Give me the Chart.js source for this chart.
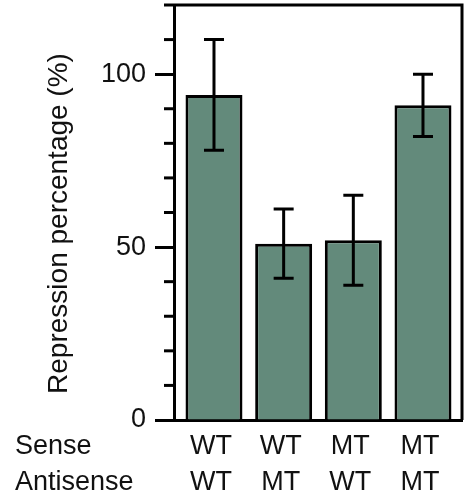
<!DOCTYPE html>
<html>
<head>
<meta charset="utf-8">
<script src="https://cdn.jsdelivr.net/npm/chart.js@4.4.1/dist/chart.umd.min.js"></script>
<style>
  html, body { margin: 0; padding: 0; background: #fff; }
  #wrap { width: 465px; height: 497px; }
</style>
</head>
<body>
<div id="wrap"><canvas id="repressionChart" width="465" height="497"></canvas></div>
<script>
// construct pairs (sense / antisense strand) and repression values
const sense = ['WT', 'WT', 'MT', 'MT'];
const antisense = ['WT', 'MT', 'WT', 'MT'];
const rowLabels = ['Sense', 'Antisense'];
const repression = [94, 51, 52, 91];
const errLow = [78, 41, 39, 82];
const errHigh = [110, 61, 65, 100];
const yMajorTicks = [0, 50, 100];
const yTitle = 'Repression percentage (%)';

const FONT = '"Liberation Sans", Arial, Helvetica, sans-serif';
const INK = '#111';
const LABEL_PAD = 9;
const LABEL_LH = 1.31;

Chart.defaults.font.family = FONT;
Chart.defaults.color = INK;

// whiskers with caps, drawn over the bars
const errorBars = {
    id: 'errorBars',
    afterDatasetsDraw: function(chart) {
        const ctx = chart.ctx;
        const xs = chart.scales.x;
        const ys = chart.scales.y;
        ctx.save();
        ctx.strokeStyle = '#000';
        ctx.lineWidth = 3;
        repression.forEach(function(v, i) {
            const x = xs.getPixelForValue(i);
            const lo = ys.getPixelForValue(errLow[i]);
            const hi = ys.getPixelForValue(errHigh[i]);
            ctx.beginPath();
            ctx.moveTo(x, lo);
            ctx.lineTo(x, hi);
            ctx.moveTo(x - 10, lo);
            ctx.lineTo(x + 10, lo);
            ctx.moveTo(x - 10, hi);
            ctx.lineTo(x + 10, hi);
            ctx.stroke();
        });
        ctx.restore();
    }
};

// closed box, short minor ticks, axis title and row names
const frame = {
    id: 'frame',
    afterDraw: function(chart) {
        const ctx = chart.ctx;
        const a = chart.chartArea;
        const ys = chart.scales.y;
        const xs = chart.scales.x;
        ctx.save();
        ctx.strokeStyle = '#000';
        ctx.lineWidth = 3;
        ctx.beginPath();
        ctx.moveTo(a.left, a.top);
        ctx.lineTo(a.right, a.top);
        ctx.lineTo(a.right, a.bottom);
        ctx.stroke();

        ys.ticks.forEach(function(t) {
            if (yMajorTicks.includes(t.value)) return;
            const y = ys.getPixelForValue(t.value);
            ctx.beginPath();
            ctx.moveTo(a.left - 10, y);
            ctx.lineTo(a.left, y);
            ctx.stroke();
        });

        ctx.fillStyle = INK;
        ctx.font = '27px ' + FONT;
        ctx.textAlign = 'left';
        ctx.textBaseline = 'middle';
        const lh = 27 * LABEL_LH;
        rowLabels.forEach(function(txt, k) {
            ctx.fillText(txt, 15, xs.top + LABEL_PAD + lh / 2 + k * lh);
        });

        ctx.translate(67, 223.5);
        ctx.rotate(-Math.PI / 2);
        ctx.font = '28px ' + FONT;
        ctx.textAlign = 'center';
        ctx.textBaseline = 'alphabetic';
        ctx.fillText(yTitle, 0, 0);
        ctx.restore();
    }
};

const repressionChart = new Chart(document.getElementById('repressionChart'), {
    type: 'bar',
    data: {
        datasets: [{
            data: repression.map(function(v, i) { return { x: i, y: v }; }),
            backgroundColor: '#638a7b',
            borderColor: '#000',
            borderWidth: 3,
            barPercentage: 0.818,
            categoryPercentage: 1
        }]
    },
    options: {
        responsive: false,
        devicePixelRatio: 1,
        animation: false,
        layout: { padding: { top: 5, right: 3, left: 0, bottom: 0 } },
        plugins: {
            legend: { display: false },
            tooltip: { enabled: false }
        },
        scales: {
            x: {
                type: 'linear',
                offset: false,
                min: -0.574,
                max: 3.56,
                afterBuildTicks: function(scale) {
                    scale.ticks = sense.map(function(s, i) { return { value: i }; });
                },
                afterFit: function(scale) {
                    scale.height = 77;
                    scale.paddingLeft = 0;
                    scale.paddingRight = 0;
                },
                grid: { display: false, drawTicks: false, offset: false },
                border: { display: true, color: '#000', width: 3 },
                ticks: {
                    autoSkip: false,
                    maxRotation: 0,
                    padding: LABEL_PAD,
                    labelOffset: -3,
                    color: INK,
                    font: { size: 27, lineHeight: LABEL_LH },
                    callback: function(v) { return [sense[v], antisense[v]]; }
                }
            },
            y: {
                min: 0,
                max: 120,
                afterFit: function(scale) {
                    scale.width = 174;
                    scale.paddingTop = 0;
                    scale.paddingBottom = 0;
                },
                grid: {
                    drawOnChartArea: false,
                    tickLength: 19,
                    tickWidth: 3,
                    tickColor: function(ctx) {
                        return yMajorTicks.includes(ctx.tick.value) ? '#000' : 'rgba(0,0,0,0)';
                    }
                },
                border: { display: true, color: '#000', width: 3 },
                ticks: {
                    stepSize: 10,
                    autoSkip: false,
                    padding: 9,
                    color: INK,
                    font: { size: 27 },
                    callback: function(v) { return yMajorTicks.includes(v) ? v : ''; }
                }
            }
        }
    },
    plugins: [errorBars, frame]
});
</script>
</body>
</html>
